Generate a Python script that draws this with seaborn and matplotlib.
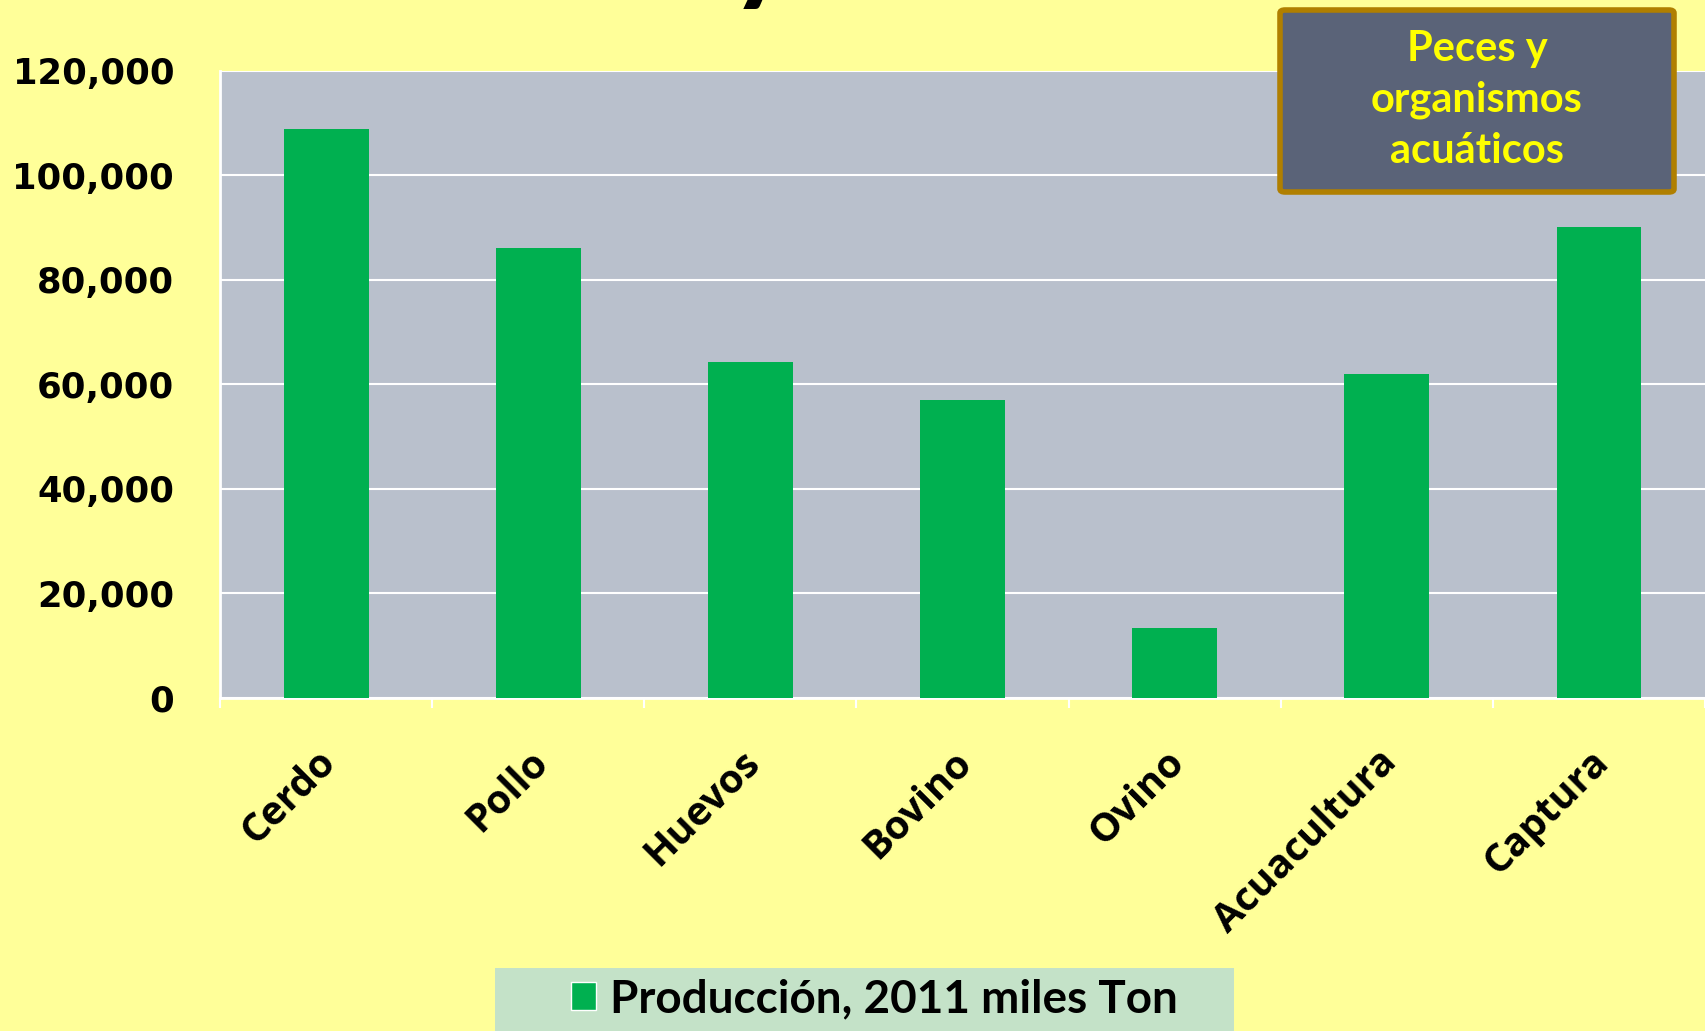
import numpy as np
import pandas as pd
import matplotlib
matplotlib.use("Agg")
import matplotlib.pyplot as plt
import matplotlib.transforms as mtransforms
from matplotlib.patches import FancyBboxPatch, Rectangle, Patch
from matplotlib.ticker import FuncFormatter, MultipleLocator, FixedLocator
import seaborn as sns

# Data
categories = ["Cerdo", "Pollo", "Huevos", "Bovino", "Ovino", "Acuacultura", "Captura"]
production = [108800, 86100, 64300, 57000, 13300, 62000, 90100]
series_name = "Producción, 2011 miles Ton"
box_text = "Peces y\norganismos\nacuáticos"

BG = "#FFFF99"
PLOT_BG = "#B9C0CC"
GREEN = "#00B050"

sns.set_theme(style="white")
plt.rcParams["font.family"] = ["Lato", "DejaVu Sans"]
plt.rcParams["font.weight"] = "bold"

df = pd.DataFrame({"cat": categories, "val": production})

fig = plt.figure(figsize=(17.05, 10.31), dpi=100, facecolor=BG)
ax = fig.add_axes([220 / 1705, 333 / 1031, 1 - 220 / 1705, (960.3 - 333) / 1031])
ax.set_facecolor(PLOT_BG)

sns.barplot(data=df, x="cat", y="val", color=GREEN, saturation=1, width=0.4,
            linewidth=0, ax=ax, zorder=3)

ax.set_xlim(-0.5, len(categories) - 0.5)
ax.set_ylim(0, 120000)
ax.yaxis.set_major_locator(MultipleLocator(20000))
ax.yaxis.set_major_formatter(FuncFormatter(lambda v, p: f"{int(v):,}"))
ax.grid(axis="y", color="white", linewidth=1.5, zorder=0)
ax.set_axisbelow(True)
ax.set_xlabel("")
ax.set_ylabel("")

for side in ["top", "right"]:
    ax.spines[side].set_visible(False)
for side in ["left", "bottom"]:
    ax.spines[side].set_color("white")
    ax.spines[side].set_linewidth(2)

ax.tick_params(axis="y", which="major", length=14, width=1.5, color="white",
               pad=19, labelcolor="black")
ax.tick_params(axis="x", which="major", length=0, pad=32, labelcolor="black")
ax.xaxis.set_minor_locator(FixedLocator(np.arange(-0.5, len(categories), 1.0)))
ax.tick_params(axis="x", which="minor", length=7, width=1.5, color="white",
               bottom=True)
shift = mtransforms.ScaledTranslation(-10 / 100, 0, fig.dpi_scale_trans)
for lab in ax.get_xticklabels():
    lab.set_rotation(45)
    lab.set_ha("right")
    lab.set_rotation_mode("anchor")
    lab.set_fontweight("bold")
    lab.set_fontfamily(["Open Sans", "DejaVu Sans"])
    lab.set_fontsize(28.5)
    lab.set_transform(lab.get_transform() + shift)
for lab in ax.get_yticklabels():
    lab.set_fontweight("bold")
    lab.set_fontfamily(["DejaVu Sans"])
    lab.set_fontsize(25.5)

# Annotation box, top right
box = FancyBboxPatch((1280 / 1705, (1031 - 192) / 1031), 394 / 1705, 182 / 1031,
                     boxstyle="round,pad=0,rounding_size=0.003",
                     transform=fig.transFigure, facecolor="#5A6378",
                     edgecolor="#B07F00", linewidth=4, zorder=10)
fig.add_artist(box)
fig.text(1477 / 1705, (1031 - 100) / 1031, box_text, ha="center", va="center",
         color="#FFFF00", fontsize=30, fontweight="bold", linespacing=1.4,
         zorder=11)

# Legend panel at the bottom
fig.add_artist(Rectangle((495 / 1705, -0.01), 739 / 1705, 73 / 1031,
                         transform=fig.transFigure, facecolor="#C4E2C8",
                         edgecolor="none", zorder=5))
leg = fig.legend(handles=[Patch(facecolor=GREEN, label=series_name)],
                 loc="center", bbox_to_anchor=(874 / 1705, 32 / 1031),
                 frameon=False, handlelength=0.55, handleheight=0.55,
                 handletextpad=0.3, labelcolor="black",
                 prop={"weight": "bold", "size": 33})
leg.set_zorder(6)

# Fragment of the cropped title
fig.text(762 / 1705, 1.012, "y", ha="center", va="baseline", fontsize=90,
         fontweight="bold", color="black")

fig.savefig("out.png", dpi=100, facecolor=BG)
